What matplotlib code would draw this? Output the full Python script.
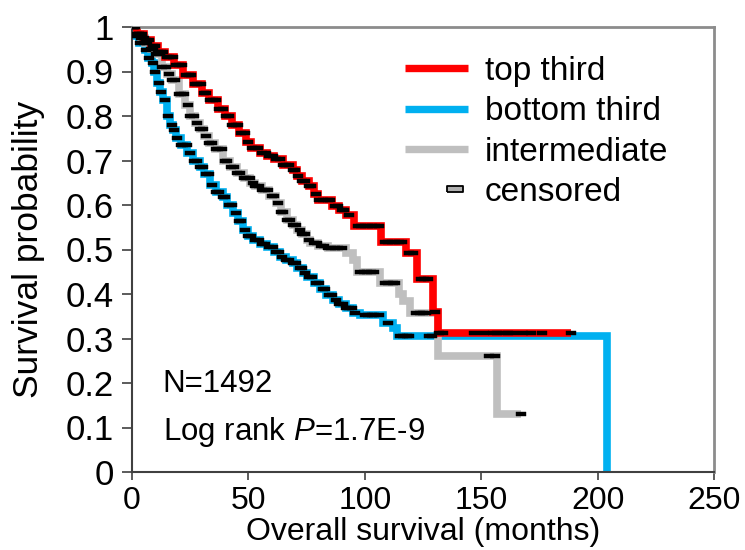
import matplotlib
matplotlib.use("Agg")
import matplotlib.pyplot as plt
from matplotlib.lines import Line2D
from matplotlib.legend_handler import HandlerLine2D
import numpy as np

plt.rcParams['font.family'] = ['Liberation Sans', 'DejaVu Sans']
plt.rcParams['mathtext.fontset'] = 'custom'
plt.rcParams['mathtext.rm'] = 'Liberation Sans'
plt.rcParams['mathtext.it'] = 'Liberation Sans:italic'

# ---------------- data ----------------
# Kaplan-Meier step knots: time (months) and survival after the step
top_t = [0, 2, 5, 8, 11, 14, 18, 22, 26, 30, 33, 37, 40, 43, 46, 49, 51, 55, 58, 61,
         65, 69, 71, 73, 76, 78, 80, 86, 89, 92, 95.5, 107, 117.5, 122.5, 129.5, 131.5, 188.5]
top_s = [1.0, 0.985, 0.97, 0.958, 0.944, 0.932, 0.915, 0.893, 0.872, 0.852, 0.836, 0.815,
         0.80, 0.78, 0.762, 0.742, 0.728, 0.717, 0.71, 0.704, 0.69, 0.679, 0.665, 0.655,
         0.642, 0.625, 0.611, 0.597, 0.589, 0.578, 0.553, 0.517, 0.492, 0.434, 0.36, 0.312, 0.312]
top_cens = [0.5, 1, 2, 3, 4.5, 6, 7.5, 9, 10, 11, 12.5, 13.5, 15, 16, 17.5, 19, 20, 21.5,
            23, 24.5, 25.5, 27, 28, 29.5, 31, 32, 33.5, 35, 36, 37.5, 39, 40.5, 41.5, 43,
            44.5, 45.5, 47, 48.5, 50, 51.5, 53, 54, 56, 57.5, 59, 60.5, 62, 63.5, 65, 66,
            67.5, 69, 70, 71.5, 73, 74.5, 76, 77, 79, 80.5, 82, 84, 85, 87, 88.5, 90, 91,
            93, 97, 98.5, 100, 101.5, 103, 104.5, 106, 108.5, 110, 111.5, 113, 114.5, 116,
            119, 120.5, 124, 125.5, 127, 130, 132, 133.5, 147, 151, 155, 157, 159.5, 161.5,
            163.5, 168, 171.5, 176, 188.5]

bot_t = [0, 1.3, 3, 5.6, 7, 8.6, 9.5, 10.7, 12, 13.3, 15, 16.5, 17.6, 19, 21, 23.6, 26, 29,
         31, 33.5, 36, 39, 41, 43.4, 45.5, 47.7, 50, 52, 55, 58, 61, 63.6, 66, 69, 71, 73.5,
         75, 78, 80.8, 83.5, 86.3, 89, 92, 95, 98, 108, 112, 114, 204]
bot_s = [1.0, 0.98, 0.965, 0.948, 0.93, 0.918, 0.9, 0.874, 0.855, 0.836, 0.80, 0.78, 0.769,
         0.75, 0.735, 0.717, 0.70, 0.686, 0.67, 0.645, 0.63, 0.618, 0.60, 0.582, 0.565, 0.544,
         0.53, 0.521, 0.512, 0.506, 0.495, 0.483, 0.477, 0.47, 0.458, 0.447, 0.438, 0.425,
         0.412, 0.398, 0.386, 0.377, 0.369, 0.358, 0.353, 0.335, 0.323, 0.305, 0.0]
bot_cens = [1, 2, 3.5, 5, 6, 7.5, 9, 10, 11.5, 12.5, 14, 15.5, 17, 18, 19.5, 21, 22, 23.5,
            25, 26.5, 28, 29, 30.5, 32, 33, 34.5, 36, 37.5, 39, 40, 41.5, 43, 44.5, 46, 47,
            48.5, 50, 51, 53, 54.5, 56, 57, 59, 60.5, 62, 63, 64.5, 66, 67.5, 69, 70.5, 72,
            73, 74.5, 76, 77.5, 79, 80.5, 82, 83, 84.5, 86, 87.5, 89, 90.5, 92, 93, 94.5, 96,
            100, 101.5, 103, 104, 106, 110, 115, 116.5, 118, 119, 127.5, 129]

mid_t = [0, 2, 4, 5.6, 8, 10, 13, 15, 17, 20, 22.8, 25, 27, 29, 31, 33, 35.6, 39, 42, 45,
         48, 50.7, 53, 56, 59, 62, 64, 66.5, 69, 71, 73, 75, 76.5, 80, 84, 92, 95, 96.6,
         106.5, 114.5, 116.5, 119.5, 131.5, 157, 167]
mid_s = [1.0, 0.985, 0.975, 0.965, 0.95, 0.94, 0.91, 0.895, 0.88, 0.85, 0.825, 0.80, 0.784,
         0.77, 0.755, 0.74, 0.726, 0.70, 0.685, 0.672, 0.66, 0.649, 0.642, 0.634, 0.62, 0.604,
         0.585, 0.566, 0.555, 0.544, 0.535, 0.521, 0.514, 0.508, 0.503, 0.492, 0.476, 0.449,
         0.425, 0.40, 0.385, 0.357, 0.26, 0.13, 0.13]
mid_cens = [1.5, 3, 4, 5, 6.5, 8, 9, 10.5, 12, 13, 14.5, 16, 17, 18.5, 20, 21, 22.5, 24, 25,
            26.5, 28, 29, 30.5, 32, 33, 34.5, 36, 37, 38.5, 40, 41, 42.5, 44, 45, 46.5, 48,
            49, 50.5, 52, 53, 54.5, 56, 57, 58.5, 60, 61, 62.5, 64, 65, 66.5, 68, 69, 70.5,
            72, 73, 74.5, 76, 78, 79.5, 81, 82.5, 84, 85.5, 87, 88.5, 90, 98, 99.5, 101,
            102.5, 104, 108.5, 110, 112, 113, 122, 123.5, 125, 126.5, 153.5, 156, 167]

labels = ['top third', 'bottom third', 'intermediate', 'censored']
colors = ['#ff0000', '#00b0f0', '#bfbfbf']

x_ticks = [0, 50, 100, 150, 200, 250]
y_ticks = [0, 0.1, 0.2, 0.3, 0.4, 0.5, 0.6, 0.7, 0.8, 0.9, 1.0]
y_ticklabels = ['0', '0.1', '0.2', '0.3', '0.4', '0.5', '0.6', '0.7', '0.8', '0.9', '1']

n_text = 'N=1492'
p_text = r'Log rank $P$=1.7E-9'

# ---------------- figure ----------------
fig = plt.figure(figsize=(7.45, 5.5), dpi=100)
ax = fig.add_axes([132 / 745, 1 - 472 / 550, (714 - 132) / 745, (472 - 27) / 550])

dash = [(-1, -0.45), (1, -0.45), (1, 0.45), (-1, 0.45), (-1, -0.45)]


def surv_at(ts, ss, t):
    idx = np.searchsorted(np.asarray(ts), t, side='right') - 1
    return np.asarray(ss)[np.clip(idx, 0, len(ss) - 1)]


groups = [(bot_t, bot_s, bot_cens, colors[1]),
          (mid_t, mid_s, mid_cens, colors[2]),
          (top_t, top_s, top_cens, colors[0])]
for ts, ss, cens, col in groups:
    ax.step(ts, ss, where='post', color=col, lw=5.5, solid_joinstyle='miter',
            solid_capstyle='butt', zorder=2)
for ts, ss, cens, col in groups:
    ax.plot(cens, surv_at(ts, ss, cens), ls='none', marker=dash, ms=6.5,
            mfc='black', mec='black', mew=0.3, zorder=3)

ax.set_xlim(0, 250)
ax.set_ylim(0, 1)
ax.set_xticks(x_ticks)
ax.set_xticklabels([str(v) for v in x_ticks])
ax.set_yticks(y_ticks)
ax.set_yticklabels(y_ticklabels)
ax.tick_params(axis='both', direction='out', width=1.2, color='#404040')
ax.tick_params(axis='y', length=7, pad=6, labelsize=25)
ax.tick_params(axis='x', length=6, pad=4, labelsize=23)
for side in ['left', 'bottom']:
    ax.spines[side].set_color('#404040')
    ax.spines[side].set_linewidth(1.5)
for side in ['top', 'right']:
    ax.spines[side].set_color('#8c8c8c')
    ax.spines[side].set_linewidth(2)

ax.set_xlabel('Overall survival (months)', fontsize=23, labelpad=1)
ax.set_ylabel('Survival probability', fontsize=25.5, labelpad=15)

ax.text(0.053, 0.198, n_text, transform=ax.transAxes, fontsize=22.5, va='center', ha='left')
ax.text(0.053, 0.09, p_text, transform=ax.transAxes, fontsize=22.5, va='center', ha='left')


class CensorHandler(HandlerLine2D):
    def get_xdata(self, legend, xdescent, ydescent, width, height, fontsize):
        x0 = -xdescent + 0.58 * width
        x1 = -xdescent + 1.0 * width
        return [x0, x1], [0.5 * (x0 + x1)]


handles = [Line2D([], [], color=colors[0], lw=5.3, solid_capstyle='butt'),
           Line2D([], [], color=colors[1], lw=5.3, solid_capstyle='butt'),
           Line2D([], [], color=colors[2], lw=5.3, solid_capstyle='butt'),
           Line2D([], [], ls='none', marker=dash, ms=11, mfc='#b0b0b0', mec='black', mew=1.3)]
ax.legend(handles, labels, loc='upper left', bbox_to_anchor=(0.469, 0.935), frameon=False,
          fontsize=24, handlelength=1.9, handletextpad=0.5, labelspacing=0.28,
          borderpad=0, borderaxespad=0, numpoints=1,
          handler_map={handles[3]: CensorHandler(numpoints=1)})

fig.savefig('out.png', dpi=100)
